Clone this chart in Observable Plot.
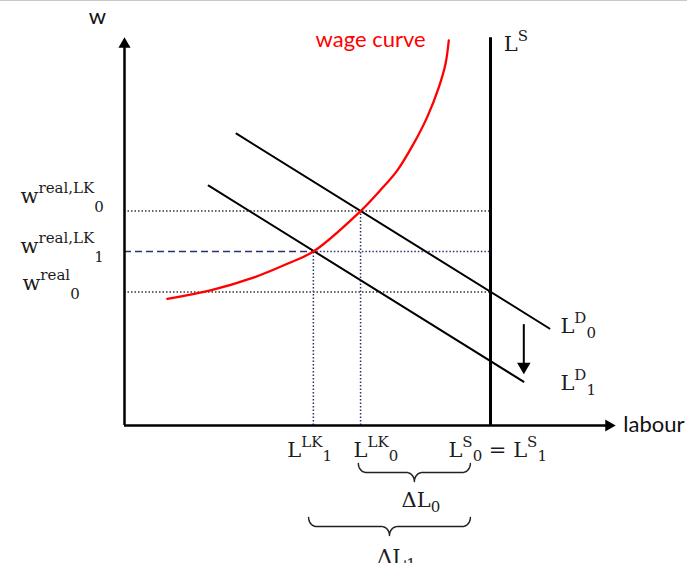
<!DOCTYPE html>
<html>
<head>
<meta charset="utf-8">
<script src="https://cdn.jsdelivr.net/npm/d3@7"></script>
<script src="https://cdn.jsdelivr.net/npm/@observablehq/plot@0.6"></script>
<style>
  body { margin: 0; background: #fff; }
  #chart { position: relative; width: 687px; height: 563px; overflow: hidden; }
  #topline { position: absolute; left: 0; top: 0; width: 687px; height: 1px; background: #c8c8c8; }
</style>
</head>
<body>
<div id="chart"><div id="topline"></div></div>
<script>
// ---------------- data (labour units L, wage units w) ----------------
const LS = 100;                                  // vertical labour supply L^S
const L_LK = [64.5, 51.6];                       // L^LK_0, L^LK_1
const W_REAL0 = 34.7;                            // w^real_0
const W_LK = [55.7, 45.2];                       // w^real,LK_0, w^real,LK_1

// wage curve
const wageCurveL = [11.7, 23.5, 35.2, 44.5, 51.6, 64.5, 69.9, 74.5, 79.0, 82.7, 85.9, 87.7, 88.6];
const wageCurveW = [32.9, 35.1, 38.4, 42.0, 45.2, 55.7, 61.1, 66.2, 73.2, 80.1, 87.9, 93.9, 100.0];

// labour demand lines L^D_0 and L^D_1 (end points)
const demandNames = ["LD0", "LD0", "LD1", "LD1"];
const demandL = [30.6, 116.1, 23.0, 109.0];
const demandW = [75.8, 25.2, 62.3, 11.4];

// downward shift arrow
const shiftArrowL = 109.1;
const shiftArrowW = [26.2, 15.3];

// axis extents
const yAxisTop = 99.0;
const xAxisEnd = 132.3;
const lsTop = 100.7;

// braces under the labour axis
const braceNames = ["ΔL0", "ΔL1"];
const braceFrom = [63.9, 50.3];
const braceTo = [94.5, 94.5];
const braceW = [-9.87, -23.9];

// math labels (markup: ^{sup}, _{sub})
const mathText = [
  "w^{real,LK}_{0}", "w^{real,LK}_{1}", "w^{real}_{0}",
  "L^{LK}_{1}", "L^{LK}_{0}", "L^{S}_{0} = L^{S}_{1}",
  "ΔL_{0}", "ΔL_{1}",
  "L^{S}", "L^{D}_{0}", "L^{D}_{1}"
];
const mathGroup = ["left", "left", "left", "axis", "axis", "axis", "delta", "delta", "top", "right", "right"];
const mathL = [-28.4, -28.4, -27.9, 44.5, 62.6, 88.5, 75.7, 69.0, 103.6, 119.1, 119.1];
const mathW = [57.7, 44.7, 35.1, -8.3, -8.3, -8.3, -21.2, -36.0, 97.4, 23.9, 9.1];

// plain labels
const plainText = ["w", "labour"];
const plainL = [-9.8, 136.3];
const plainW = [104.2, -1.8];
const curveLabel = "wage curve";
const curveLabelL = 52.2;
const curveLabelW = 98.4;

// ---------------- derived tables ----------------
const wageCurve = wageCurveL.map((L, i) => ({L, w: wageCurveW[i]}));
const demand = demandL.map((L, i) => ({L, w: demandW[i], z: demandNames[i]}));
const mathLabels = mathText.map((text, i) => ({text, L: mathL[i], w: mathW[i], group: mathGroup[i]}));
const plainLabels = plainText.map((text, i) => ({text, L: plainL[i], w: plainW[i]}));

const X_DOMAIN = [0, 100], X_RANGE = [124, 490];
const Y_DOMAIN = [0, 100], Y_RANGE = [425, 40];
const pxL = (X_DOMAIN[1] - X_DOMAIN[0]) / (X_RANGE[1] - X_RANGE[0]);   // L units per px
const pxW = (Y_DOMAIN[1] - Y_DOMAIN[0]) / (Y_RANGE[0] - Y_RANGE[1]);   // w units per px

// brace geometry (shape in px, converted to data units)
function braceFull(a, b, wTop, name) {
  const rx = 8, ry = 9, n = 10;
  const m = (a + b) / 2;
  const half = [];
  for (let k = 0; k <= n; k++) { const t = Math.PI - (Math.PI / 2) * k / n; half.push({ref: "end", dx: rx + rx * Math.cos(t), dy: ry * Math.sin(t)}); }
  for (let k = 0; k <= n; k++) { const t = -Math.PI / 2 + (Math.PI / 2) * k / n; half.push({ref: "mid", dx: -rx + rx * Math.cos(t), dy: 2 * ry + ry * Math.sin(t)}); }
  const left = half.map(p => ({L: (p.ref === "end" ? a : m) + p.dx * pxL, w: wTop - p.dy * pxW, z: name}));
  const right = half.slice().reverse().map(p => ({L: (p.ref === "end" ? b : m) - p.dx * pxL, w: wTop - p.dy * pxW, z: name}));
  return left.concat(right);
}
const bracePts = braceNames.flatMap((nm, i) => braceFull(braceFrom[i], braceTo[i], braceW[i], nm));

// ---------------- plot ----------------
const dotted = "1.5,2";
const navy = "#27336b";
const plot = Plot.plot({
  width: 687,
  height: 563,
  x: {domain: X_DOMAIN, range: X_RANGE, axis: null},
  y: {domain: Y_DOMAIN, range: Y_RANGE, axis: null},
  style: {background: "white", overflow: "visible"},
  marks: [
    // guide lines
    Plot.ruleY([W_LK[0], W_REAL0], {y: d => d, x1: 0, x2: LS, stroke: "#333", strokeWidth: 1.5, strokeDasharray: dotted}),
    Plot.ruleY([W_LK[1]], {y: d => d, x1: 0, x2: L_LK[1], stroke: navy, strokeWidth: 1.6, strokeDasharray: "7,4"}),
    Plot.ruleY([W_LK[1]], {y: d => d, x1: L_LK[1], x2: LS, stroke: navy, strokeWidth: 1.5, strokeDasharray: dotted}),
    Plot.ruleX([0, 1], {x: i => L_LK[i], y1: 0, y2: i => W_LK[i], stroke: navy, strokeWidth: 1.5, strokeDasharray: dotted}),
    // labour demand
    Plot.line(demand, {x: "L", y: "w", z: "z", stroke: "#000", strokeWidth: 2}),
    // labour supply
    Plot.ruleX([LS], {y1: 0, y2: lsTop, stroke: "#000", strokeWidth: 3}),
    // wage curve
    Plot.line(wageCurve, {x: "L", y: "w", curve: "catmull-rom", stroke: "#ff0000", strokeWidth: 2.3}),
    // axes
    Plot.ruleX([0], {y1: 0, y2: yAxisTop, stroke: "#000", strokeWidth: 2.5}),
    Plot.ruleY([0], {x1: 0, x2: xAxisEnd, stroke: "#000", strokeWidth: 2.5}),
    Plot.dot([0], {x: 0, y: yAxisTop, symbol: "triangle", r: 4.5, fill: "#000", stroke: null}),
    Plot.dot([0], {x: xAxisEnd, y: 0, symbol: "triangle", r: 4.5, rotate: 90, fill: "#000", stroke: null}),
    // shift arrow
    Plot.ruleX([shiftArrowL], {y1: shiftArrowW[0], y2: shiftArrowW[1], stroke: "#000", strokeWidth: 2}),
    Plot.dot([0], {x: shiftArrowL, y: shiftArrowW[1], symbol: "triangle", r: 5, rotate: 180, fill: "#000", stroke: null}),
    // braces
    Plot.line(bracePts, {x: "L", y: "w", z: "z", stroke: "#222", strokeWidth: 1.5}),
    // labels
    Plot.text(mathLabels, {x: "L", y: "w", text: "text", textAnchor: "start", lineAnchor: "bottom",
      fontFamily: "DejaVu Serif", fontSize: 21, fill: "#1b1b22"}),
    Plot.text(plainLabels, {x: "L", y: "w", text: "text", textAnchor: "start", lineAnchor: "bottom",
      fontFamily: "Lato", fontSize: 22, fill: "#111"}),
    Plot.text([curveLabel], {x: curveLabelL, y: curveLabelW, text: d => d, textAnchor: "start", lineAnchor: "bottom",
      fontFamily: "Lato", fontSize: 22, fill: "#ff0000"})
  ]
});

// render ^{..} and _{..} markup as tspans
const SUP_SHIFT = -10, SCRIPT_SIZE = 15;
const SUB_SHIFT = {left: 9, axis: 4, delta: 5, top: 4, right: 5};
const svgNS = "http://www.w3.org/2000/svg";
plot.querySelectorAll("text").forEach(el => {
  const src = el.textContent;
  const idx = mathText.indexOf(src);
  if (idx < 0) return;
  const group = mathGroup[idx];
  const re = /\^\{([^}]*)\}|_\{([^}]*)\}|([^^_]+)/g;
  let m, cur = 0;
  el.textContent = "";
  el.setAttribute("xml:space", "preserve");
  while ((m = re.exec(src))) {
    const t = document.createElementNS(svgNS, "tspan");
    let target, size = null, txt;
    if (m[1] !== undefined) { target = SUP_SHIFT; size = SCRIPT_SIZE; txt = m[1]; }
    else if (m[2] !== undefined) { target = SUB_SHIFT[group]; size = SCRIPT_SIZE; txt = m[2]; }
    else { target = 0; txt = m[3]; }
    if (target !== cur) t.setAttribute("dy", target - cur);
    cur = target;
    if (size) t.setAttribute("font-size", size);
    t.style.whiteSpace = "pre";
    t.textContent = txt;
    el.appendChild(t);
  }
});

document.getElementById("chart").appendChild(plot);
</script>
</body>
</html>
